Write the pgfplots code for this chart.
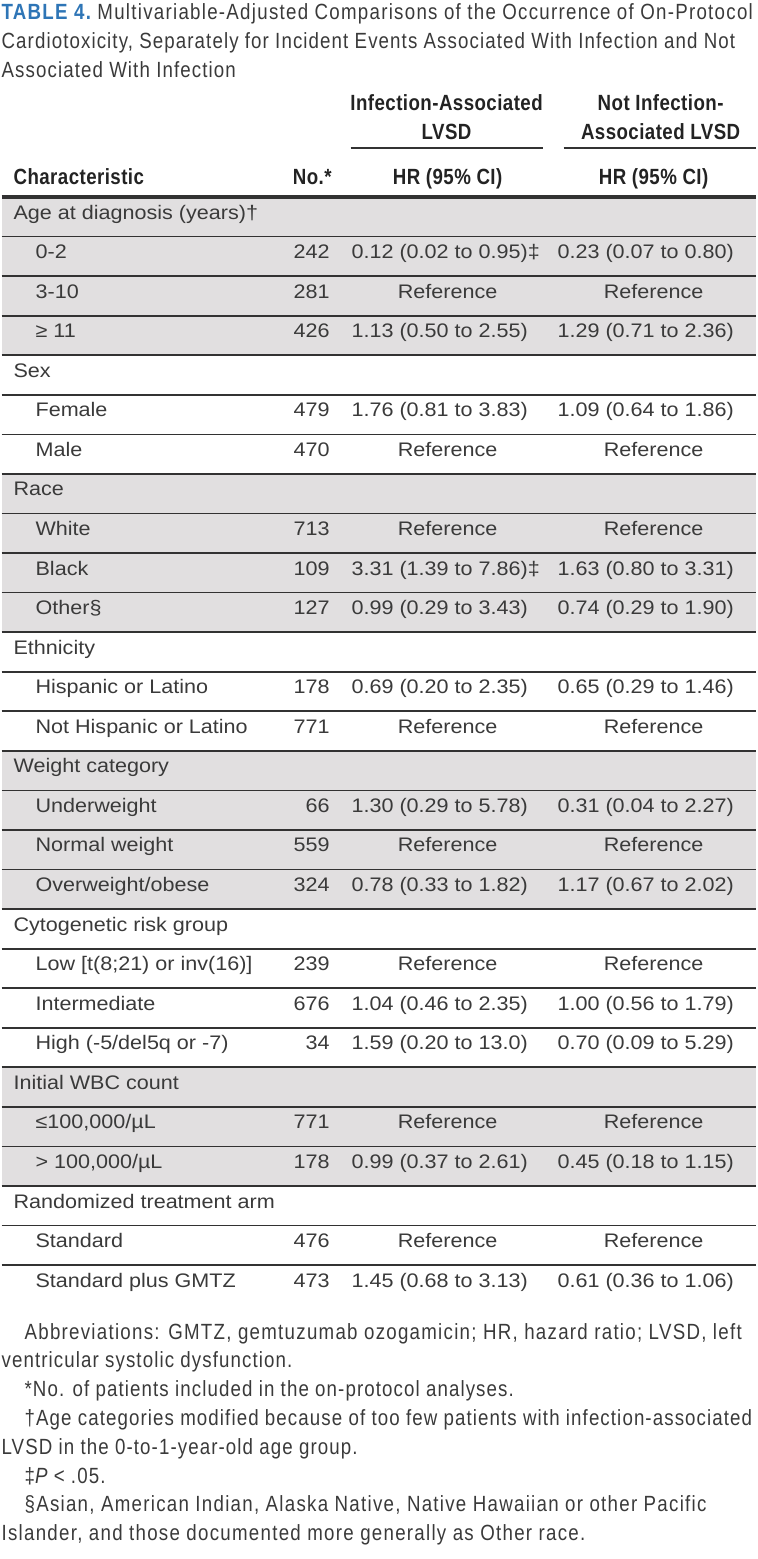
\documentclass[border=0pt]{standalone}
\usepackage{pgfplots}
\pgfplotsset{compat=1.18}
\usepackage{fontspec}
\setmainfont{Liberation Sans}
\newfontfamily\cond[FakeStretch=0.85,LetterSpace=5]{Liberation Sans}
\newfontfamily\condw[FakeStretch=0.85,LetterSpace=5.8]{Liberation Sans}
\newfontfamily\condh[FakeStretch=0.85,LetterSpace=2]{Liberation Sans}
\newfontfamily\body[FakeStretch=1.10]{Liberation Sans}
\definecolor{tblue}{RGB}{46,117,182}
\definecolor{shade}{RGB}{225,223,224}
\definecolor{txt}{RGB}{58,58,58}
\definecolor{hdr}{RGB}{35,35,35}
\definecolor{rule}{RGB}{50,50,50}
\tikzset{tn/.style={inner sep=0pt,outer sep=0pt,text=txt}}
\newcommand\RH{39.56}
\newcommand\grp[2]{\node[tn,anchor=base west] at (axis cs:12,{219+\RH*#1}) {\body\fontsize{9.8}{12}\selectfont #2};}
\newcommand\itm[5]{%
 \node[tn,anchor=base west] at (axis cs:34,{219+\RH*#1}) {\body\fontsize{9.8}{12}\selectfont #2};
 \node[tn,anchor=base east] at (axis cs:328,{219+\RH*#1}) {\body\fontsize{9.8}{12}\selectfont #3};
 \node[tn,anchor=base west] at (axis cs:350,{219+\RH*#1}) {\body\fontsize{9.8}{12}\selectfont #4};
 \node[tn,anchor=base west] at (axis cs:556,{219+\RH*#1}) {\body\fontsize{9.8}{12}\selectfont #5};}
\newcommand\refrow[3]{%
 \node[tn,anchor=base west] at (axis cs:34,{219+\RH*#1}) {\body\fontsize{9.8}{12}\selectfont #2};
 \node[tn,anchor=base east] at (axis cs:328,{219+\RH*#1}) {\body\fontsize{9.8}{12}\selectfont #3};
 \node[tn,anchor=base] at (axis cs:446,{219+\RH*#1}) {\body\fontsize{9.8}{12}\selectfont Reference};
 \node[tn,anchor=base] at (axis cs:652,{219+\RH*#1}) {\body\fontsize{9.8}{12}\selectfont Reference};}
\newcommand\shadeband[2]{\addplot[fill=shade,draw=none] coordinates {(0,{197+\RH*#1}) (754,{197+\RH*#1}) (754,{197+\RH*#2}) (0,{197+\RH*#2})} --cycle;}
\newcommand\hd{\condh\bfseries\fontsize{11}{13}\selectfont\color{hdr}}
\newcommand\ft{\cond\fontsize{11}{13}\selectfont}
\newcommand\ftw{\condw\fontsize{11}{13}\selectfont}
\begin{document}
\begin{tikzpicture}
\begin{axis}[
  width=377pt, height=779.5pt, scale only axis,
  xmin=0, xmax=754, ymin=0, ymax=1559, y dir=reverse,
  axis lines=none, ticks=none, clip=false,
]
\addplot[draw=none] coordinates {(0,0) (754,1559)};
% shaded bands
\shadeband{0}{4}
\shadeband{7}{11}
\shadeband{14}{18}
\shadeband{22}{25}
% rules
\addplot[rule, line width=1.6pt] coordinates {(0,197) (754,197)};
\foreach \j in {1,...,27} {
  \addplot[rule, line width=0.85pt] coordinates {(0,{197+\RH*\j}) (754,{197+\RH*\j})};
}
\addplot[rule, line width=0.8pt] coordinates {(349,148) (541,148)};
\addplot[rule, line width=0.8pt] coordinates {(562,148) (754,148)};
% title
\node[tn,anchor=base west] at (axis cs:0,19) {\ftw{\bfseries\color{tblue}TABLE 4.}\ Multivariable-Adjusted Comparisons of the Occurrence of On-Protocol};
\node[tn,anchor=base west] at (axis cs:0,48) {\ft Cardiotoxicity, Separately for Incident Events Associated With Infection and Not};
\node[tn,anchor=base west] at (axis cs:0,77) {\ft Associated With Infection};
% header
\node[tn,anchor=base] at (axis cs:445,110) {\hd Infection-Associated};
\node[tn,anchor=base] at (axis cs:445,139) {\hd LVSD};
\node[tn,anchor=base] at (axis cs:659,110) {\hd Not Infection-};
\node[tn,anchor=base] at (axis cs:659,139) {\hd Associated LVSD};
\node[tn,anchor=base west] at (axis cs:12,184) {\hd Characteristic};
\node[tn,anchor=base east] at (axis cs:330,184) {\hd No.*};
\node[tn,anchor=base] at (axis cs:446,184) {\hd HR (95\% CI)};
\node[tn,anchor=base] at (axis cs:652,184) {\hd HR (95\% CI)};
% body
\grp{0}{Age at diagnosis (years)†}
\itm{1}{0-2}{242}{0.12 (0.02 to 0.95)‡}{0.23 (0.07 to 0.80)}
\refrow{2}{3-10}{281}
\itm{3}{≥ 11}{426}{1.13 (0.50 to 2.55)}{1.29 (0.71 to 2.36)}
\grp{4}{Sex}
\itm{5}{Female}{479}{1.76 (0.81 to 3.83)}{1.09 (0.64 to 1.86)}
\refrow{6}{Male}{470}
\grp{7}{Race}
\refrow{8}{White}{713}
\itm{9}{Black}{109}{3.31 (1.39 to 7.86)‡}{1.63 (0.80 to 3.31)}
\itm{10}{Other§}{127}{0.99 (0.29 to 3.43)}{0.74 (0.29 to 1.90)}
\grp{11}{Ethnicity}
\itm{12}{Hispanic or Latino}{178}{0.69 (0.20 to 2.35)}{0.65 (0.29 to 1.46)}
\refrow{13}{Not Hispanic or Latino}{771}
\grp{14}{Weight category}
\itm{15}{Underweight}{66}{1.30 (0.29 to 5.78)}{0.31 (0.04 to 2.27)}
\refrow{16}{Normal weight}{559}
\itm{17}{Overweight/obese}{324}{0.78 (0.33 to 1.82)}{1.17 (0.67 to 2.02)}
\grp{18}{Cytogenetic risk group}
\refrow{19}{Low [t(8;21) or inv(16)]}{239}
\itm{20}{Intermediate}{676}{1.04 (0.46 to 2.35)}{1.00 (0.56 to 1.79)}
\itm{21}{High (-5/del5q or -7)}{34}{1.59 (0.20 to 13.0)}{0.70 (0.09 to 5.29)}
\grp{22}{Initial WBC count}
\refrow{23}{≤100,000/µL}{771}
\itm{24}{> 100,000/µL}{178}{0.99 (0.37 to 2.61)}{0.45 (0.18 to 1.15)}
\grp{25}{Randomized treatment arm}
\refrow{26}{Standard}{476}
\itm{27}{Standard plus GMTZ}{473}{1.45 (0.68 to 3.13)}{0.61 (0.36 to 1.06)}
% footnotes
\node[tn,anchor=base west] at (axis cs:23,1339) {\ftw Abbreviations: GMTZ, gemtuzumab ozogamicin; HR, hazard ratio; LVSD, left};
\node[tn,anchor=base west] at (axis cs:0,1367) {\ft ventricular systolic dysfunction.};
\node[tn,anchor=base west] at (axis cs:23,1396) {\ft *No. of patients included in the on-protocol analyses.};
\node[tn,anchor=base west] at (axis cs:23,1425) {\ft †Age categories modified because of too few patients with infection-associated};
\node[tn,anchor=base west] at (axis cs:0,1454) {\ft LVSD in the 0-to-1-year-old age group.};
\node[tn,anchor=base west] at (axis cs:23,1483) {\ft ‡{\itshape P} < .05.};
\node[tn,anchor=base west] at (axis cs:23,1511) {\ftw §Asian, American Indian, Alaska Native, Native Hawaiian or other Pacific};
\node[tn,anchor=base west] at (axis cs:0,1540) {\ftw Islander, and those documented more generally as Other race.};
\end{axis}
\end{tikzpicture}
\end{document}
